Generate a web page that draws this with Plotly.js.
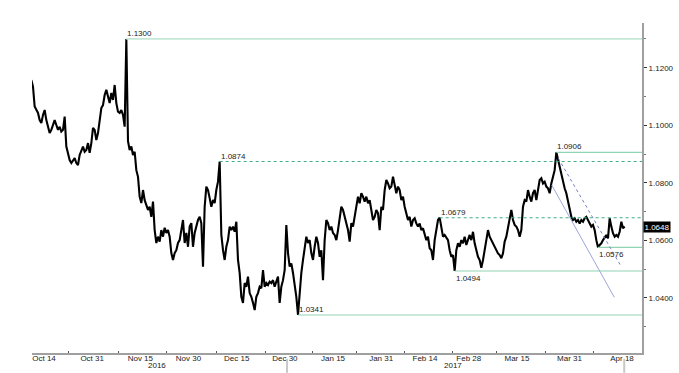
<!DOCTYPE html>
<html>
<head>
<meta charset="utf-8">
<script src="https://cdn.plot.ly/plotly-3.0.1.min.js"></script>
<style>html,body{margin:0;padding:0;background:#fff;}#chart{width:679px;height:373px;}</style>
</head>
<body>
<div id="chart"></div>
<script>
// ---- Data ----
// Price samples on a regular trading-time grid (weekends excluded)
const sampleStart = -2.893;   // trading days relative to 2016-10-14
const sampleStep = 0.3806;    // trading days between samples
const eurusd = [
 1.1157,1.1134,1.1065,1.1053,1.1043,1.1018,1.1008,1.1036,1.1053,1.1018,
 1.0995,1.0973,1.0984,1.1001,1.1018,1.1001,1.0984,1.0995,1.0978,1.0984,
 1.1030,1.0926,1.0897,1.0879,1.0869,1.0879,1.0886,1.0869,1.0862,1.0897,
 1.0914,1.0926,1.0908,1.0914,1.0938,1.0904,1.0938,1.0991,1.0984,1.0949,
 1.0973,1.1018,1.1060,1.1070,1.1105,1.1123,1.1099,1.1077,1.1112,1.1088,
 1.1140,1.1077,1.1047,1.1043,1.1053,1.1036,1.0995,1.1300,1.0945,1.0914,
 1.0926,1.0897,1.0908,1.0844,1.0821,1.0752,1.0730,1.0775,1.0740,1.0723,
 1.0706,1.0717,1.0682,1.0735,1.0636,1.0591,1.0613,1.0596,1.0636,1.0613,
 1.0644,1.0626,1.0636,1.0613,1.0556,1.0532,1.0556,1.0566,1.0591,1.0601,
 1.0636,1.0671,1.0591,1.0626,1.0578,1.0648,1.0660,1.0578,1.0626,1.0648,
 1.0671,1.0682,1.0660,1.0509,1.0717,1.0787,1.0775,1.0747,1.0717,1.0740,
 1.0730,1.0775,1.0804,1.0874,1.0620,1.0566,1.0532,1.0578,1.0601,1.0648,
 1.0636,1.0648,1.0630,1.0665,1.0532,1.0487,1.0404,1.0383,1.0452,1.0439,
 1.0474,1.0417,1.0404,1.0383,1.0358,1.0404,1.0417,1.0439,1.0434,1.0497,
 1.0439,1.0452,1.0445,1.0457,1.0452,1.0462,1.0439,1.0457,1.0474,1.0383,
 1.0439,1.0462,1.0497,1.0653,1.0556,1.0509,1.0520,1.0487,1.0452,1.0404,
 1.0341,1.0428,1.0487,1.0532,1.0566,1.0613,1.0591,1.0601,1.0556,1.0532,
 1.0578,1.0613,1.0591,1.0543,1.0566,1.0462,1.0601,1.0671,1.0660,1.0636,
 1.0648,1.0626,1.0619,1.0601,1.0636,1.0671,1.0717,1.0706,1.0682,1.0665,
 1.0636,1.0596,1.0660,1.0648,1.0682,1.0729,1.0752,1.0729,1.0764,1.0752,
 1.0735,1.0752,1.0729,1.0740,1.0706,1.0671,1.0682,1.0706,1.0694,1.0636,
 1.0717,1.0706,1.0775,1.0810,1.0798,1.0781,1.0787,1.0821,1.0793,1.0764,
 1.0787,1.0775,1.0740,1.0752,1.0717,1.0694,1.0671,1.0682,1.0648,1.0671,
 1.0677,1.0659,1.0648,1.0659,1.0636,1.0642,1.0625,1.0601,1.0613,1.0573,
 1.0566,1.0532,1.0601,1.0636,1.0671,1.0679,1.0648,1.0613,1.0619,1.0607,
 1.0601,1.0566,1.0543,1.0549,1.0494,1.0566,1.0590,1.0578,1.0601,1.0590,
 1.0613,1.0584,1.0601,1.0619,1.0601,1.0630,1.0590,1.0566,1.0543,1.0532,
 1.0505,1.0532,1.0566,1.0613,1.0636,1.0613,1.0601,1.0590,1.0578,1.0566,
 1.0555,1.0549,1.0538,1.0555,1.0596,1.0613,1.0648,1.0682,1.0706,1.0671,
 1.0654,1.0648,1.0636,1.0613,1.0636,1.0717,1.0740,1.0735,1.0775,1.0752,
 1.0735,1.0764,1.0775,1.0740,1.0775,1.0810,1.0816,1.0798,1.0804,1.0787,
 1.0781,1.0764,1.0798,1.0821,1.0844,1.0906,1.0879,1.0862,1.0833,1.0804,
 1.0781,1.0764,1.0740,1.0706,1.0682,1.0671,1.0677,1.0665,1.0671,1.0659,
 1.0671,1.0665,1.0677,1.0682,1.0671,1.0659,1.0648,1.0654,1.0636,1.0601,
 1.0576,1.0584,1.0590,1.0601,1.0613,1.0619,1.0607,1.0677,1.0648,1.0625,
 1.0613,1.0619,1.0613,1.0630,1.0665,1.0642,1.0648
];
const lastPrice = 1.0648;

// Horizontal levels
const levelValues = [1.1300, 1.0874, 1.0906, 1.0679, 1.0576, 1.0494, 1.0341];
const levelStart = ["2016-11-09 19:00","2016-12-09 02:40","2017-03-28 00:00","2017-02-17 08:30","2017-04-10 12:15","2017-02-22 18:45","2017-01-04 00:00"];
const levelDashed = [false, true, false, true, false, false, false];
const levelLabelBelow = [false, false, false, false, true, true, false];

// Trend lines
const trendX0 = ["2017-03-24 22:30", "2017-03-28 10:48"];
const trendY0 = [1.07925, 1.08853];
const trendX1 = ["2017-04-14 05:45", "2017-04-17 13:00"];
const trendY1 = [1.04024, 1.05163];
const trendDashed = [false, true];

// Axis labels
const xTickDates = ["2016-10-14","2016-10-31","2016-11-15","2016-11-30","2016-12-15","2016-12-30","2017-01-16","2017-01-31","2017-02-14","2017-02-28","2017-03-15","2017-03-31","2017-04-18"];
const xTickText = ["Oct 14","Oct 31","Nov 15","Nov 30","Dec 15","Dec 30","Jan 15","Jan 31","Feb 14","Feb 28","Mar 15","Mar 31","Apr 18"];
const xTickMarks = ["2016-10-21 12:00","2016-11-07 22:00","2016-11-23 02:00","2016-12-08 12:00","2016-12-23 12:00","2017-01-09 10:00","2017-01-23 06:00","2017-02-07 10:00","2017-02-22 05:00","2017-03-08 10:00","2017-03-23 14:00","2017-04-07 14:00"];
const yearLabels = ["2016","2017"];
const yearDates = ["2016-11-18 19:00","2017-02-22 12:00"];
const yearMarks = ["2016-12-30 12:00","2017-04-18 12:00"];
const yTickVals = [1.04, 1.06, 1.08, 1.10, 1.12];
const yMinorVals = [1.03, 1.05, 1.07, 1.09, 1.11, 1.13];

// ---- helpers: trading-day index -> date string ----
function tradeDate(t) {
  const base = Date.UTC(2016, 9, 14);
  const whole = Math.floor(t);
  const frac = t - whole;
  let ms = base;
  const step = whole >= 0 ? 1 : -1;
  let n = Math.abs(whole);
  while (n > 0) {
    ms += step * 86400000;
    const wd = new Date(ms).getUTCDay();
    if (wd !== 0 && wd !== 6) n--;
  }
  ms += frac * 86400000;
  return new Date(ms).toISOString().replace('T', ' ').slice(0, 19);
}

const xs = eurusd.map((_, i) => tradeDate(sampleStart + i * sampleStep));
const xRange = [tradeDate(-2.74), tradeDate(136.56)];
const yRange = [1.02089, 1.13553];

const FONT = 'Liberation Sans, Arial, sans-serif';

const traces = [{
  type: 'scatter', mode: 'lines', x: xs, y: eurusd,
  line: {color: '#000', width: 2.1}, hoverinfo: 'skip'
}];

const shapes = [];
const annotations = [];
levelValues.forEach((v, i) => {
  const pale = i === 0;
  shapes.push({
    type: 'line', xref: 'x', yref: 'y',
    x0: levelStart[i], x1: xRange[1], y0: v, y1: v,
    line: {color: pale ? '#c4e8d6' : (levelDashed[i] ? '#3fae85' : '#8fd4b3'),
           width: pale ? 1.6 : 1.1, dash: levelDashed[i] ? '3px,3px' : 'solid'}
  });
  annotations.push({
    xref: 'x', yref: 'y', x: levelStart[i], y: v,
    text: v.toFixed(4), showarrow: false,
    xanchor: 'left', yanchor: levelLabelBelow[i] ? 'top' : 'bottom',
    xshift: -1, yshift: -1,
    font: {family: FONT, size: 8, color: '#222'}
  });
});
trendX0.forEach((x0, i) => {
  shapes.push({
    type: 'line', xref: 'x', yref: 'y',
    x0: x0, y0: trendY0[i], x1: trendX1[i], y1: trendY1[i],
    line: {color: trendDashed[i] ? '#7381c9' : '#9ca6da', width: 1, dash: trendDashed[i] ? '3px,3px' : 'solid'}
  });
});
yearMarks.forEach(d => {
  shapes.push({
    type: 'line', xref: 'x', yref: 'paper', x0: d, x1: d, y0: -0.018, y1: -0.06,
    line: {color: '#c8c8c8', width: 2}
  });
});
yearLabels.forEach((t, i) => {
  annotations.push({
    xref: 'x', yref: 'paper', x: yearDates[i], y: -0.037,
    text: t, showarrow: false, xanchor: 'center', yanchor: 'middle',
    font: {family: FONT, size: 8, color: '#222'}
  });
});
annotations.push({
  xref: 'paper', yref: 'y', x: 1, y: lastPrice, xanchor: 'left', xshift: 1,
  text: lastPrice.toFixed(4), showarrow: false, bgcolor: '#000', borderpad: 0.5,
  font: {family: FONT, size: 8, color: '#fff'}
});

const layout = {
  width: 679, height: 373,
  margin: {l: 32, r: 37, t: 23, b: 20, pad: 0},
  paper_bgcolor: '#fff', plot_bgcolor: '#fff',
  showlegend: false,
  font: {family: FONT, size: 8, color: '#222'},
  xaxis: {
    type: 'date', range: xRange,
    rangebreaks: [{bounds: ['sat', 'mon']}],
    tickmode: 'array', tickvals: xTickDates, ticktext: xTickText,
    ticks: '', ticklabelstandoff: -4, showline: true, linecolor: '#a0a0a0', linewidth: 2,
    showgrid: false, zeroline: false,
    tickfont: {family: FONT, size: 8, color: '#222'},
    minor: {tickmode: 'array', tickvals: xTickMarks, ticks: 'inside', ticklen: 2, tickcolor: '#555', showgrid: false}
  },
  yaxis: {
    side: 'right', range: yRange,
    tickmode: 'array', tickvals: yTickVals, ticktext: yTickVals.map(v => v.toFixed(4)),
    ticks: 'outside', ticklen: 3, tickcolor: '#333', tickwidth: 1,
    showline: true, linecolor: '#a0a0a0', linewidth: 2,
    showgrid: false, zeroline: false,
    tickfont: {family: FONT, size: 8, color: '#222'},
    minor: {tickmode: 'array', tickvals: yMinorVals, ticks: 'outside', ticklen: 2, tickcolor: '#777', showgrid: false}
  },
  shapes: shapes,
  annotations: annotations
};

Plotly.newPlot('chart', traces, layout, {displayModeBar: false, staticPlot: true});
</script>
</body>
</html>
